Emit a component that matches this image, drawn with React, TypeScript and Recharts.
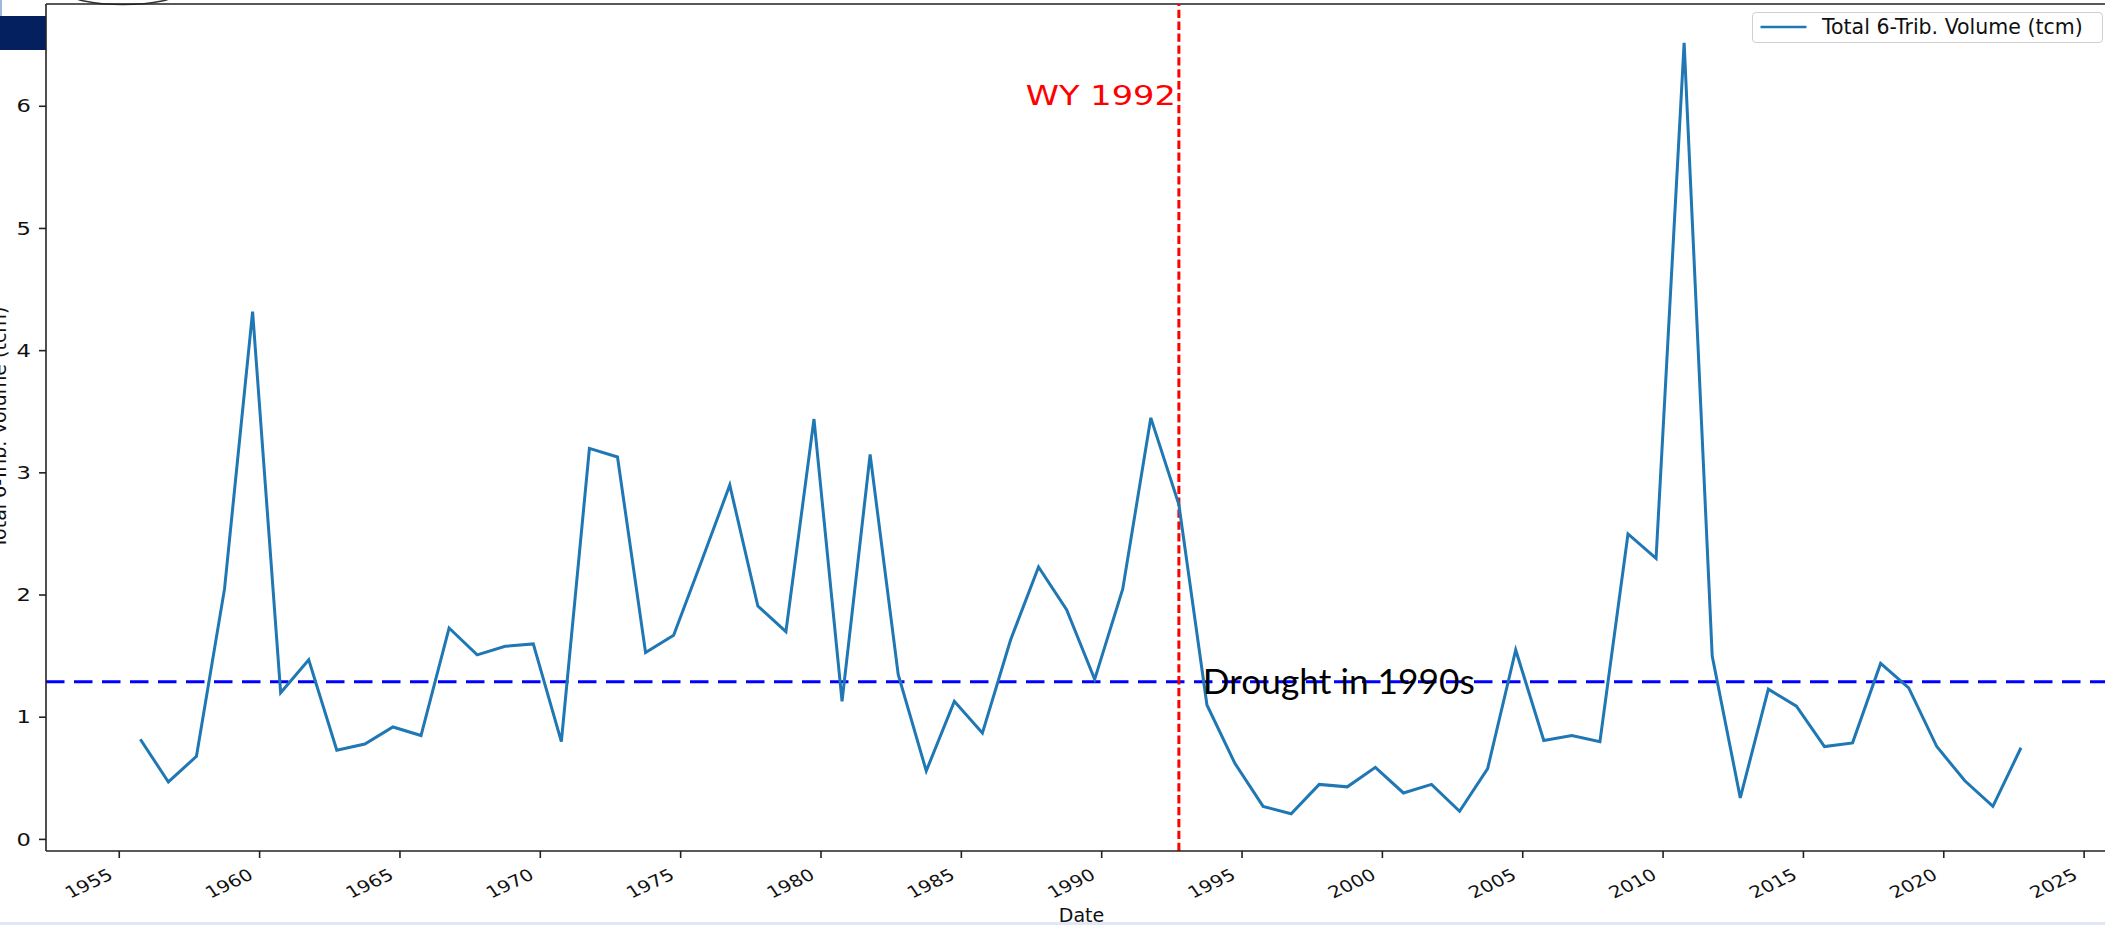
import React from 'react';
import { LineChart, Line, XAxis, YAxis, ReferenceLine, ReferenceDot, Legend } from 'recharts';

// Water years (each point is plotted at Oct 1 of the preceding calendar year)
const waterYears = [
  1956, 1957, 1958, 1959, 1960, 1961, 1962, 1963, 1964, 1965,
  1966, 1967, 1968, 1969, 1970, 1971, 1972, 1973, 1974, 1975,
  1976, 1977, 1978, 1979, 1980, 1981, 1982, 1983, 1984, 1985,
  1986, 1987, 1988, 1989, 1990, 1991, 1992, 1993, 1994, 1995,
  1996, 1997, 1998, 1999, 2000, 2001, 2002, 2003, 2004, 2005,
  2006, 2007, 2008, 2009, 2010, 2011, 2012, 2013, 2014, 2015,
  2016, 2017, 2018, 2019, 2020, 2021, 2022, 2023,
];

// Total 6-Trib. Volume (tcm)
const volumes = [
  0.82, 0.47, 0.68, 2.05, 4.32, 1.20, 1.47, 0.73, 0.78, 0.92,
  0.85, 1.73, 1.51, 1.58, 1.60, 0.80, 3.20, 3.13, 1.53, 1.67,
  2.28, 2.90, 1.91, 1.70, 3.44, 1.13, 3.15, 1.35, 0.56, 1.13,
  0.87, 1.63, 2.23, 1.88, 1.31, 2.05, 3.45, 2.74, 1.10, 0.62,
  0.27, 0.21, 0.45, 0.43, 0.59, 0.38, 0.45, 0.23, 0.58, 1.55,
  0.81, 0.85, 0.80, 2.50, 2.30, 6.52, 1.50, 0.34, 1.23, 1.09,
  0.76, 0.79, 1.44, 1.24, 0.76, 0.48, 0.27, 0.75,
];

const WATER_YEAR_START_OFFSET = -0.25; // Oct 1 of previous year

const xTicks = [1955, 1960, 1965, 1970, 1975, 1980, 1985, 1990, 1995, 2000, 2005, 2010, 2015, 2020, 2025];
const yTicks = [0, 1, 2, 3, 4, 5, 6];

const xDomain: [number, number] = [1952.39, 2026.1];
const yDomain: [number, number] = [-0.095, 6.837];

const seriesName = 'Total 6-Trib. Volume (tcm)';
const droughtThreshold = 1.29;
const eventDate = 1992.75;
const eventLabel = 'WY 1992';
const droughtLabel = 'Drought in 1990s';
const droughtLabelPos = { x: 1993.6, y: 1.19 };
const eventLabelY = 6.01;
const xLabel = 'Date';

const data = waterYears.map((wy, i) => ({ x: wy + WATER_YEAR_START_OFFSET, v: volumes[i] }));

const FONT = '"DejaVu Sans", Verdana, sans-serif';
const SPINE = '#222';

const XTick = (props: any) => {
  const { x, y, payload } = props;
  return (
    <g transform={`translate(${x - 5},${y + 18})`}>
      <text transform="scale(1,0.82) rotate(-30)" textAnchor="end" fontFamily={FONT} fontSize={20} fill="#111">
        {payload.value}
      </text>
    </g>
  );
};

const YTick = (props: any) => {
  const { x, y, payload } = props;
  return (
    <g transform={`translate(${x - 6},${y})`}>
      <text transform="scale(1.33,1)" textAnchor="end" dy="0.36em" fontFamily={FONT} fontSize={17} fill="#111">
        {payload.value}
      </text>
    </g>
  );
};

const LegendBox = (props: any) => {
  const item = props.payload && props.payload[0];
  return (
    <div
      style={{
        width: 351,
        height: 31,
        boxSizing: 'border-box',
        border: '1px solid #d0d0d0',
        borderRadius: 4,
        background: 'rgba(255,255,255,0.85)',
        position: 'relative',
      }}
    >
      <svg width={349} height={29} style={{ position: 'absolute', left: 0, top: 0 }}>
        <line x1={7.5} x2={53.5} y1={14} y2={14} stroke="#1f77b4" strokeWidth={2.6} />
        <text x={69} y={21} fontFamily={FONT} fontSize={20.5} fill="#111">
          {(item && item.value) || seriesName}
        </text>
      </svg>
    </div>
  );
};

export default function App() {
  return (
    <div
      style={{
        position: 'fixed',
        left: 0,
        top: 0,
        width: 2105,
        height: 925,
        overflow: 'hidden',
        background: '#fff',
      }}
    >
      {/* slide decorations */}
      <div style={{ position: 'absolute', left: 0, top: 16, width: 46, height: 34, background: '#05205e' }} />
      <div style={{ position: 'absolute', left: 0, top: 0, width: 2, height: 16, background: '#9fb6de' }} />
      <div style={{ position: 'absolute', left: 0, top: 922, width: 2105, height: 3, background: '#dfe8f4' }} />
      <svg width={300} height={20} style={{ position: 'absolute', left: 0, top: 0 }}>
        <ellipse cx={123} cy={-7.5} rx={55} ry={12} fill="none" stroke="#333" strokeWidth={1.5} />
      </svg>

      <div style={{ position: 'absolute', left: 0, top: 0 }}>
        <LineChart width={2170} height={925} data={data} margin={{ top: 4, right: 55, bottom: 0, left: 0 }}>
          <XAxis
            type="number"
            dataKey="x"
            domain={xDomain}
            allowDataOverflow
            ticks={xTicks}
            interval={0}
            height={74}
            tickSize={7}
            axisLine={{ stroke: SPINE, strokeWidth: 1.6 }}
            tickLine={{ stroke: SPINE, strokeWidth: 1.6 }}
            tick={<XTick />}
            label={(p: any) => {
              const vb = p.viewBox || {};
              return (
                <text
                  x={vb.x + vb.width / 2 + 1}
                  y={vb.y + vb.height - 3}
                  textAnchor="middle"
                  fontFamily={FONT}
                  fontSize={19}
                  fill="#111"
                >
                  {xLabel}
                </text>
              );
            }}
          />
          <YAxis
            type="number"
            domain={yDomain}
            allowDataOverflow
            ticks={yTicks}
            interval={0}
            width={46}
            tickSize={7}
            axisLine={{ stroke: SPINE, strokeWidth: 1.6 }}
            tickLine={{ stroke: SPINE, strokeWidth: 1.6 }}
            tick={<YTick />}
            label={(p: any) => {
              const vb = p.viewBox || {};
              const cx = vb.x + 6;
              const cy = vb.y + vb.height / 2;
              return (
                <text
                  transform={`translate(${cx},${cy}) rotate(-90)`}
                  textAnchor="middle"
                  fontFamily={FONT}
                  fontSize={19}
                  fill="#111"
                >
                  {seriesName}
                </text>
              );
            }}
          />
          {/* top spine */}
          <ReferenceLine y={yDomain[1]} stroke={SPINE} strokeWidth={1.6} ifOverflow="visible" />
          <ReferenceLine
            y={droughtThreshold}
            stroke="#0000ff"
            strokeWidth={3}
            strokeDasharray="18.5 9.5"
          />
          <ReferenceLine
            x={eventDate}
            stroke="#ff0000"
            strokeWidth={3}
            strokeDasharray="8.3 3.6"
          />
          <Line
            type="linear"
            dataKey="v"
            name={seriesName}
            stroke="#1f77b4"
            strokeWidth={3}
            dot={false}
            activeDot={false}
            isAnimationActive={false}
          />
          <ReferenceDot
            x={eventDate}
            y={eventLabelY}
            r={0}
            shape={(p: any) => (
              <text
                x={p.cx - 3}
                y={p.cy}
                textAnchor="end"
                fontFamily={FONT}
                fontSize={27}
                fill="#ff0000"
                textLength={150}
                lengthAdjust="spacingAndGlyphs"
              >
                {eventLabel}
              </text>
            )}
          />
          <ReferenceDot
            x={droughtLabelPos.x}
            y={droughtLabelPos.y}
            r={0}
            shape={(p: any) => (
              <text
                x={p.cx}
                y={p.cy}
                textAnchor="start"
                fontFamily="Lato, Carlito, sans-serif"
                fontSize={35}
                fill="#000"
                textLength={272}
                lengthAdjust="spacingAndGlyphs"
              >
                {droughtLabel}
              </text>
            )}
          />
          <Legend
            layout="horizontal"
            verticalAlign="middle"
            align="center"
            content={<LegendBox />}
            wrapperStyle={{ position: 'absolute', left: 1752, top: 12, width: 351, height: 31, margin: 0, padding: 0 }}
          />
        </LineChart>
      </div>
    </div>
  );
}
